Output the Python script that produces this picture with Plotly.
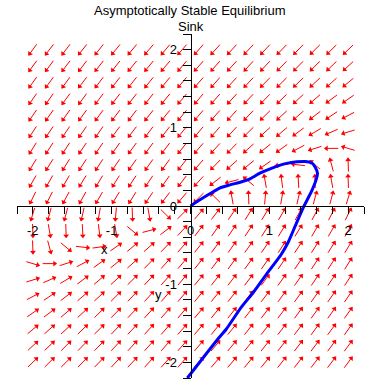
import plotly.graph_objects as go
import math

# grid of direction-field sample points (same for x and y)
GRID = [-2.000, -1.789, -1.579, -1.368, -1.158, -0.947, -0.737, -0.526, -0.316, -0.105,
        0.105, 0.316, 0.526, 0.737, 0.947, 1.158, 1.368, 1.579, 1.789, 2.000]

# arrow directions in degrees (counter-clockwise from +x)
# first row is y = -2, last row is y = 2; columns run x = -2 .. 2
ANGLES = [
 [44,45,45,46,46,47,47,48,48,49,49,50,50,51,51,52,52,53,53,54],
 [43,44,45,46,46,47,48,48,49,49,50,50,51,51,52,52,53,53,54,54],
 [40,42,43,44,45,46,47,48,49,49,50,51,51,52,52,53,53,54,54,55],
 [35,37,41,43,45,46,47,48,49,50,50,51,52,52,53,53,54,54,55,55],
 [28,34,38,41,43,45,47,48,49,50,51,51,52,53,53,54,54,55,55,56],
 [17,24,31,37,41,43,45,47,49,50,51,52,53,53,54,55,55,56,56,57],
 [343,0,18,28,36,39,42,46,48,50,52,53,54,54,55,56,56,57,57,58],
 [272,285,320,353,8,35,40,42,46,49,52,54,55,55,56,57,57,58,58,59],
 [272,280,272,273,277,280,320,15,38,48,53,55,56,57,58,59,59,60,60,61],
 [253,255,255,257,260,265,272,280,315,45,50,53,56,58,59,60,61,62,63,64],
 [244,243,242,241,240,239,238,236,233,230,225,135,100,92,85,80,77,75,75,73],
 [241,240,240,239,239,238,237,236,235,233,228,218,195,140,100,97,93,92,100,92],
 [239,238,238,237,237,236,235,235,234,232,229,226,222,220,215,188,173,140,105,92],
 [238,237,237,236,236,235,234,234,233,232,230,228,226,222,219,216,208,198,180,163],
 [237,236,236,235,235,234,233,233,232,231,230,229,227,225,223,221,217,211,204,197],
 [236,235,235,234,234,233,233,232,231,231,230,229,228,227,225,223,221,218,214,208],
 [235,235,234,234,233,233,232,232,231,230,230,229,228,227,226,225,223,221,217,215],
 [235,234,234,233,233,232,232,231,231,230,229,229,228,227,226,225,224,223,222,220],
 [234,234,233,233,232,232,231,231,230,230,229,229,228,228,227,226,226,225,224,223],
 [234,233,233,232,232,231,231,230,230,229,229,228,228,227,227,226,226,225,225,224],
]

# solution curve
TRAJ_X = [-0.04, 0.34, 0.45, 0.64, 0.80, 0.98, 1.15, 1.24, 1.33, 1.43, 1.54, 1.60, 1.61,
          1.58, 1.54, 1.45, 1.35, 1.22, 1.10, 0.97, 0.88, 0.76, 0.65, 0.50, 0.37, 0.25,
          0.12, 0.015, 0.0]
TRAJ_Y = [-2.20, -1.71, -1.58, -1.30, -1.10, -0.85, -0.62, -0.46, -0.25, -0.02, 0.20, 0.36,
          0.42, 0.50, 0.55, 0.57, 0.565, 0.545, 0.51, 0.46, 0.42, 0.35, 0.31, 0.27, 0.23,
          0.16, 0.08, 0.01, 0.0]

TITLE_1 = "Asymptotically Stable Equilibrium"
TITLE_2 = "Sink"
TICKS = [-2, -1, 0, 1, 2]
TICK_TEXT = ["-2", "-1", "0", "1", "2"]

FONT = "Liberation Sans, Arial, sans-serif"
RED = "#ff0000"
L = 0.17  # arrow length in data units

lx, ly, hx, hy, ha = [], [], [], [], []
for r, yv in enumerate(GRID):
    for c, xv in enumerate(GRID):
        th = math.radians(ANGLES[r][c])
        dx, dy = math.cos(th), math.sin(th)
        x0, y0 = xv - L / 2 * dx, yv - L / 2 * dy
        x1, y1 = xv + L / 2 * dx, yv + L / 2 * dy
        lx += [x0, x1, None]
        ly += [y0, y1, None]
        hx.append(xv + (L / 2 - 0.02) * dx)
        hy.append(yv + (L / 2 - 0.02) * dy)
        ha.append(90 - ANGLES[r][c])

fig = go.Figure()
fig.add_trace(go.Scatter(x=lx, y=ly, mode="lines", line=dict(color=RED, width=1),
                         hoverinfo="skip"))
fig.add_trace(go.Scatter(x=hx, y=hy, mode="markers",
                         marker=dict(symbol="triangle-up", size=5, color=RED, angle=ha,
                                     line=dict(width=0)),
                         hoverinfo="skip"))
fig.add_trace(go.Scatter(x=TRAJ_X, y=TRAJ_Y, mode="lines",
                         line=dict(color="#0000ff", width=3, shape="spline", smoothing=0.6)))

axis_common = dict(range=[-2.2, 2.2], anchor="free", position=0.5, showline=True,
                   linecolor="black", linewidth=1, ticks="outside", tickcolor="black",
                   tickmode="array", tickvals=TICKS, ticktext=TICK_TEXT,
                   showgrid=False, zeroline=False,
                   tickfont=dict(family=FONT, size=13, color="black"))
fig.update_xaxes(**axis_common, ticklen=7, ticklabelstandoff=5,
                 minor=dict(tickmode="linear", tick0=0, dtick=0.2, ticks="outside",
                            ticklen=7, tickcolor="black"))
fig.update_yaxes(**axis_common, ticklen=8, ticklabelstandoff=3,
                 minor=dict(tickmode="linear", tick0=0, dtick=0.2, ticks="outside",
                            ticklen=8, tickcolor="black"))

fig.add_annotation(text=TITLE_1, xref="paper", yref="paper", x=0.496, y=1.068,
                   showarrow=False, font=dict(family=FONT, size=13, color="black"),
                   yanchor="middle")
fig.add_annotation(text=TITLE_2, xref="paper", yref="paper", x=0.5, y=1.022,
                   showarrow=False, font=dict(family=FONT, size=13, color="black"),
                   yanchor="middle")
fig.add_annotation(text="x", x=-1.086, y=-0.56, showarrow=False,
                   font=dict(family=FONT, size=13, color="black"))
fig.add_annotation(text="y", x=-0.40, y=-1.135, showarrow=False,
                   font=dict(family=FONT, size=13, color="black"))

fig.update_layout(width=382, height=382, showlegend=False, hovermode=False,
                  margin=dict(l=17.4, r=18.4, t=33.6, b=3.6, autoexpand=False),
                  paper_bgcolor="white", plot_bgcolor="white")

# remove the browser's default 8px page margin so the figure sits at the window corner
fig.write_html("out.html", config={"displayModeBar": False},
               post_script="document.body.style.margin='0';")
